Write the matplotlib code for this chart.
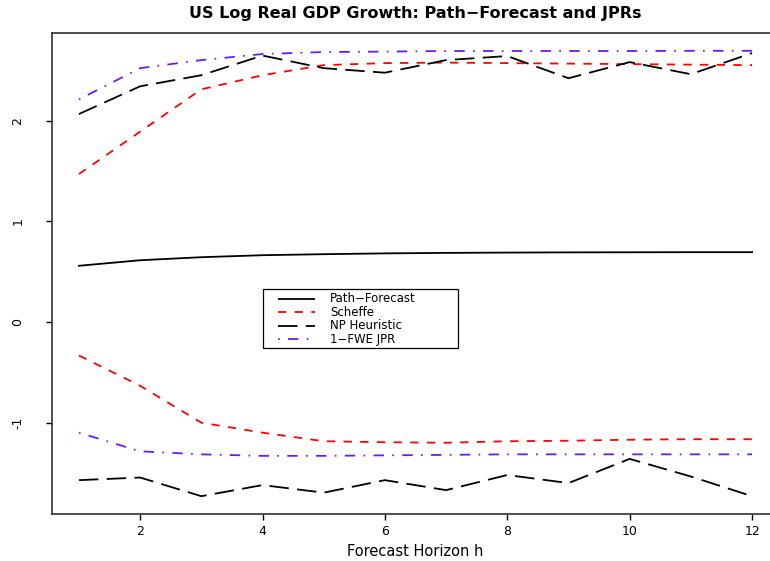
import matplotlib
matplotlib.use("Agg")
import matplotlib.pyplot as plt
from matplotlib.patches import Rectangle
import numpy as np

plt.rcParams['font.family'] = ['DejaVu Sans']
plt.rcParams['lines.scale_dashes'] = False

horizon = list(range(1, 13))
path_forecast = [0.56, 0.615, 0.645, 0.665, 0.675, 0.683, 0.688, 0.691, 0.693, 0.694, 0.695, 0.695]
scheffe_upper = [1.47, 1.89, 2.31, 2.45, 2.55, 2.57, 2.575, 2.57, 2.565, 2.56, 2.555, 2.55]
scheffe_lower = [-0.33, -0.63, -0.996, -1.095, -1.18, -1.19, -1.195, -1.18, -1.175, -1.165, -1.16, -1.16]
np_upper = [2.065, 2.34, 2.45, 2.645, 2.52, 2.475, 2.60, 2.64, 2.42, 2.58, 2.46, 2.67]
np_lower = [-1.566, -1.54, -1.725, -1.615, -1.69, -1.566, -1.665, -1.515, -1.595, -1.355, -1.53, -1.725]
fwe_upper = [2.21, 2.52, 2.60, 2.66, 2.68, 2.684, 2.69, 2.69, 2.69, 2.69, 2.692, 2.692]
fwe_lower = [-1.095, -1.28, -1.31, -1.325, -1.325, -1.32, -1.315, -1.31, -1.31, -1.31, -1.31, -1.31]

xticks = [2, 4, 6, 8, 10, 12]
yticks = [-1, 0, 1, 2]
labels = ["Path\u2212Forecast", "Scheffe", "NP Heuristic", "1\u2212FWE JPR"]

W, H = 770, 561
fig = plt.figure(figsize=(W / 100, H / 100), dpi=100)
left, right, top, bottom = 52, 779, 33, 514
ax = fig.add_axes([left / W, 1 - bottom / H, (right - left) / W, (bottom - top) / H])

red = '#FF0000'
blue = '#6A1BF5'
lw = 1.3
d_red = (0, (6.0, 6.0))
d_np = (0, (14.0, 6.0))
d_fwe = (0, (1.2, 6.0, 7.5, 6.0))

styles = [('black', '-'), (red, d_red), ('black', d_np), (blue, d_fwe)]

ax.plot(horizon, path_forecast, color='black', lw=lw)
ax.plot(horizon, scheffe_upper, color=red, lw=lw, linestyle=d_red)
ax.plot(horizon, np_upper, color='black', lw=lw, linestyle=d_np)
ax.plot(horizon, fwe_upper, color=blue, lw=lw, linestyle=d_fwe)
ax.plot(horizon, scheffe_lower, color=red, lw=lw, linestyle=d_red)
ax.plot(horizon, np_lower, color='black', lw=lw, linestyle=d_np)
ax.plot(horizon, fwe_lower, color=blue, lw=lw, linestyle=d_fwe)

allv = np.concatenate([scheffe_upper, scheffe_lower, np_upper, np_lower, fwe_upper, fwe_lower])
ymin, ymax = allv.min(), allv.max()
pad = 0.04 * (ymax - ymin)
ax.set_ylim(ymin - pad, ymax + pad)
xmin, xmax = min(horizon), max(horizon)
xpad = 0.04 * (xmax - xmin)
ax.set_xlim(xmin - xpad, xmax + xpad)

ax.set_xticks(xticks)
ax.set_xticklabels([str(t) for t in xticks])
ax.set_yticks(yticks)
ax.set_yticklabels([str(t) for t in yticks], rotation=90, va='center')
ax.tick_params(axis='both', direction='out', length=4, width=1.0, labelsize=9, colors='black')
ax.tick_params(axis='x', pad=4.0)
ax.tick_params(axis='y', pad=16)
for s in ax.spines.values():
    s.set_linewidth(1.2)
    s.set_color('#333333')

ax.set_xlabel("Forecast Horizon h", fontsize=10.5, labelpad=4)
ax.set_title("US Log Real GDP Growth: Path\u2212Forecast and JPRs", fontsize=11.5,
             fontweight='bold', pad=11)

# legend box (drawn manually, positions in axes fraction)
def ax_x(px):
    return (px - left) / (right - left)

def ax_y(py):
    return (bottom - py) / (bottom - top)

bx0, bx1, by0, by1 = 263, 458, 289, 348
ax.add_patch(Rectangle((ax_x(bx0), ax_y(by1)), ax_x(bx1) - ax_x(bx0), ax_y(by0) - ax_y(by1),
                       transform=ax.transAxes, facecolor='white', edgecolor='black',
                       lw=0.9, zorder=5))
row_y = [298.5, 312, 325.5, 339]
for (c, ls), lab, ry in zip(styles, labels, row_y):
    ax.plot([ax_x(278), ax_x(315)], [ax_y(ry), ax_y(ry)], transform=ax.transAxes,
            color=c, linestyle=ls, lw=lw, zorder=6, solid_capstyle='butt', dash_capstyle='butt')
    ax.text(ax_x(330), ax_y(ry), lab, transform=ax.transAxes, fontsize=8.5,
            va='center', ha='left', zorder=6)

fig.savefig("out.png", dpi=100)
